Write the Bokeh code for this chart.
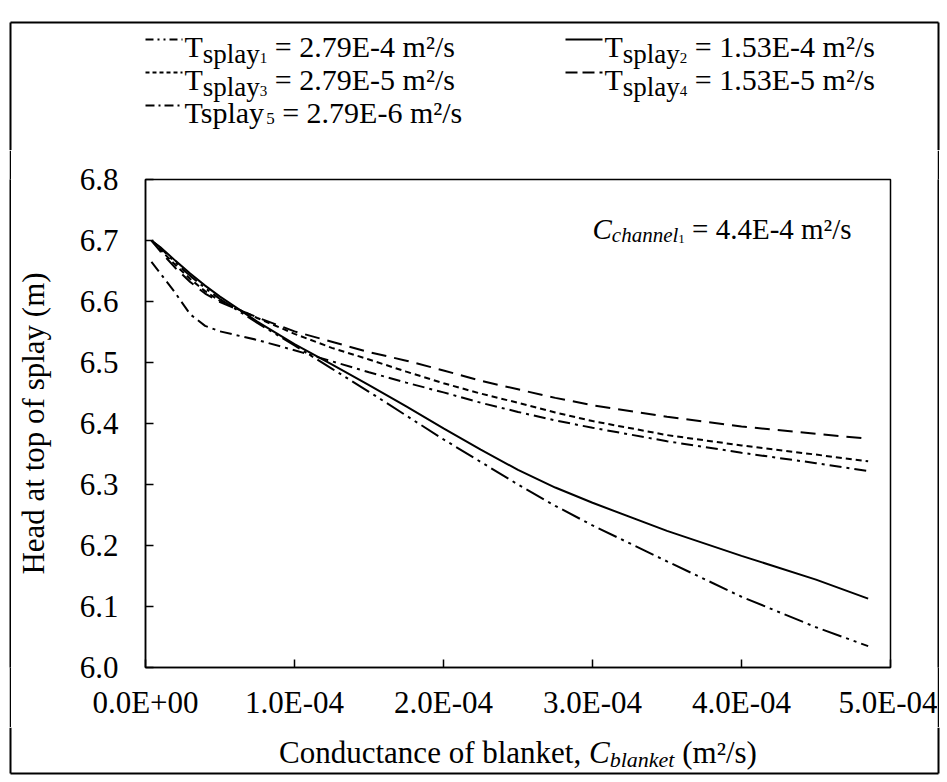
from bokeh.plotting import figure
from bokeh.layouts import column, row
from bokeh.models import Label, Range1d, FixedTicker, NumeralTickFormatter, Spacer
from bokeh.embed import file_html
from bokeh.resources import INLINE

# ---------------- data ----------------
c_blanket_e4 = [0.04, 0.1, 0.2, 0.3, 0.4, 0.5, 0.75, 1.0, 1.25, 1.5, 1.75, 2.0, 2.25, 2.5, 2.75, 3.0, 3.5, 4.0, 4.5, 4.85]
head_t1 = [6.700, 6.688, 6.664, 6.642, 6.622, 6.604, 6.565, 6.528, 6.490, 6.452, 6.413, 6.374, 6.337, 6.300, 6.265, 6.233, 6.174, 6.116, 6.066, 6.035]
head_t2 = [6.700, 6.689, 6.667, 6.646, 6.626, 6.608, 6.567, 6.530, 6.497, 6.463, 6.428, 6.392, 6.357, 6.324, 6.295, 6.270, 6.224, 6.183, 6.144, 6.113]
head_t3 = [6.700, 6.685, 6.660, 6.637, 6.617, 6.601, 6.573, 6.547, 6.524, 6.505, 6.485, 6.466, 6.449, 6.434, 6.418, 6.404, 6.381, 6.364, 6.349, 6.338]
head_t4 = [6.700, 6.682, 6.655, 6.632, 6.613, 6.599, 6.574, 6.551, 6.534, 6.517, 6.503, 6.487, 6.470, 6.456, 6.442, 6.430, 6.411, 6.395, 6.383, 6.375]
head_t5 = [6.665, 6.646, 6.614, 6.579, 6.560, 6.551, 6.537, 6.520, 6.502, 6.484, 6.467, 6.451, 6.434, 6.419, 6.405, 6.393, 6.371, 6.352, 6.335, 6.322]

series_values = ["2.79E-4", "1.53E-4", "2.79E-5", "1.53E-5", "2.79E-6"]
x_ticks = [0, 1, 2, 3, 4, 5]
x_tick_labels = ["0.0E+00", "1.0E-04", "2.0E-04", "3.0E-04", "4.0E-04", "5.0E-04"]
y_ticks = [6.0, 6.1, 6.2, 6.3, 6.4, 6.5, 6.6, 6.7, 6.8]
channel_value = "4.4E-4"

# ---------------- layout constants ----------------
FONT = "Liberation Serif"
S = 31                      # axis text size
LS, LSUB, LSUB2 = 30, 27, 15  # legend sizes
AS, ASUB, ASUB2 = 29, 21, 13  # annotation sizes
TW = 940
HEAD_H = 150
MAIN_H = 577
FOOT_H = 780 - HEAD_H - MAIN_H
FL, FT, FR, FB = 145, 179, 890, 667      # frame edges in page pixels
BL, BT, BR, BB = 10, 22, 938, 773        # outer box in page pixels
BW = 2                                   # outer box line width
X0, X1, Y0, Y1 = 0.0, 5.0, 6.0, 6.8

REG = {' ': 250, '(': 333, ')': 333, '+': 564, ',': 250, '-': 333, '.': 250, '/': 278, '=': 564,
       'C': 667, 'E': 611, 'H': 722, 'T': 611, 'a': 444, 'b': 500, 'c': 444, 'd': 500, 'e': 444,
       'f': 333, 'h': 500, 'k': 500, 'l': 278, 'm': 778, 'n': 500, 'o': 500, 'p': 500, 's': 389,
       't': 278, 'u': 500, 'y': 500, '\u00b2': 300}
ITA = {'C': 667, 'a': 500, 'b': 500, 'c': 444, 'e': 444, 'h': 500, 'k': 444, 'l': 278, 'n': 500, 't': 278}

def tw(s, size, italic=False):
    table = ITA if italic else REG
    return sum(table.get(ch, 500) for ch in s) * size / 1000.0

def rich(fig, px, py, parts, conv=lambda x, y: (x, y)):
    x = px
    for text, size, shift, italic in parts:
        lead = len(text) - len(text.lstrip(' '))
        x += tw(' ' * lead, size, italic)
        t = text.lstrip(' ')
        cx, cy = conv(x, py + shift)
        fig.add_layout(Label(x=cx, y=cy, text=t, text_font=FONT, text_font_size=f"{size}px",
                             text_font_style="italic" if italic else "normal",
                             text_baseline="alphabetic", text_align="left", text_color="black"))
        x += tw(t, size, italic)
    return x

def blank(w, h, x0, x1, y_top, y_bot, fill="white"):
    f = figure(width=w, height=h, output_backend="svg", toolbar_location=None,
               x_range=Range1d(x0, x1), y_range=Range1d(y_bot, y_top),
               x_axis_location=None, y_axis_location=None,
               min_border=0, min_border_left=0, min_border_right=0, min_border_top=0, min_border_bottom=0)
    f.grid.visible = False
    f.outline_line_color = None
    f.background_fill_color = fill
    f.border_fill_color = fill
    return f

# ---------------- header (legend) ----------------
head = blank(TW, HEAD_H, 0, TW, 0, HEAD_H)
head.line([BL, BR], [BT, BT], line_color="black", line_width=BW)
head.line([BL, BL], [BT, HEAD_H], line_color="black", line_width=BW)
head.line([BR, BR], [BT, HEAD_H], line_color="black", line_width=BW)

legend_dashes = ["8 4 2 4 2 4", "solid", "4 3", "12 5", "9 4 2 4"]
leg_pos = [(145, 46), (565, 46), (145, 79), (565, 79), (145, 112)]
for i, ((lx, by), val, ld) in enumerate(zip(leg_pos, series_values, legend_dashes)):
    head.line([lx, lx + 37], [by - 7, by - 7], line_color="black", line_width=2, line_dash=ld)
    if i < 4:
        parts = [("T", LS, 0, False), ("splay", LSUB, 7, False), (str(i + 1), LSUB2, 11, False),
                 (f" = {val} m\u00b2/s", LS, 0, False)]
    else:
        parts = [("Tsplay", LS, 0, False), (str(i + 1), LSUB2 + 2, 6, False),
                 (f" = {val} m\u00b2/s", LS, 0, False)]
    rich(head, lx + 39, by, parts)

# ---------------- main plot ----------------
MX = BL + BW // 2               # main figure page x origin (right after left bar)
MW = (BR - BW // 2) - MX
p = figure(width=MW, height=MAIN_H, output_backend="svg", toolbar_location=None,
           x_range=Range1d(X0, X1), y_range=Range1d(Y0, Y1),
           min_border_left=FL - MX, min_border_top=FT - HEAD_H,
           min_border_right=(MX + MW) - FR, min_border_bottom=(HEAD_H + MAIN_H) - FB)
p.grid.visible = False
p.outline_line_color = "black"
p.outline_line_width = 1.5
p.background_fill_color = "white"
p.border_fill_color = "white"

for ax in (p.xaxis[0], p.yaxis[0]):
    ax.axis_line_color = "black"
    ax.axis_line_width = 1.5
    ax.major_tick_line_color = "black"
    ax.major_tick_line_width = 1.5
    ax.major_tick_in = 8
    ax.major_tick_out = 0
    ax.minor_tick_line_color = None
    ax.major_label_text_font = FONT
    ax.major_label_text_font_size = f"{S}px"
    ax.major_label_text_color = "black"

p.xaxis.ticker = FixedTicker(ticks=x_ticks)
p.xaxis.major_label_overrides = {t: lab for t, lab in zip(x_ticks, x_tick_labels)}
p.xaxis.major_label_standoff = 17

p.yaxis.ticker = FixedTicker(ticks=y_ticks)
p.yaxis.formatter = NumeralTickFormatter(format="0.0")
p.yaxis.major_label_standoff = 27
p.yaxis.axis_label = "Head at top of splay (m)"
p.yaxis.axis_label_text_font = FONT
p.yaxis.axis_label_text_font_size = f"{S}px"
p.yaxis.axis_label_text_font_style = "normal"
p.yaxis.axis_label_text_color = "black"
p.yaxis.axis_label_standoff = 26

dashes = ["20 5 3 5 3 5", "solid", "6 4", "15 8", "12 5 3 5"]
all_heads = [head_t1, head_t2, head_t3, head_t4, head_t5]
for hv, d in zip(all_heads, dashes):
    p.line(c_blanket_e4, hv, line_color="black", line_width=2, line_dash=d)

def to_data(px, py):
    return (X0 + (px - FL) * (X1 - X0) / (FR - FL), Y0 + (FB - py) * (Y1 - Y0) / (FB - FT))

rich(p, 592, 228, [("C", AS, 0, True), ("channel", ASUB, 6, True), ("1", ASUB2, 10, False),
                   (f" = {channel_value} m\u00b2/s", AS, 0, False)], conv=to_data)

# vertical bars of the outer box beside the main plot
bar_l = blank(BW, MAIN_H, 0, 1, 0, 1, fill="black")
bar_r = blank(BW, MAIN_H, 0, 1, 0, 1, fill="black")
middle = row(Spacer(width=BL - BW // 2, height=MAIN_H), bar_l, p, bar_r,
             Spacer(width=TW - (BR + BW // 2), height=MAIN_H))

# ---------------- footer (x title) ----------------
FY = HEAD_H + MAIN_H
foot = blank(TW, FOOT_H, 0, TW, FY, FY + FOOT_H)
foot.line([BL, BL], [FY, BB], line_color="black", line_width=BW)
foot.line([BR, BR], [FY, BB], line_color="black", line_width=BW)
foot.line([BL, BR], [BB, BB], line_color="black", line_width=BW)
xparts = [("Conductance of blanket, ", S, 0, False), ("C", S, 0, True), ("blanket", 22, 7, True),
          (" (m\u00b2/s)", S, 0, False)]
total = sum(tw(t, s, it) for t, s, _, it in xparts)
rich(foot, (FL + FR) / 2 - total / 2, 752, xparts)

layout = column(head, middle, foot)
open("out.html", "w").write(file_html(layout, INLINE))
